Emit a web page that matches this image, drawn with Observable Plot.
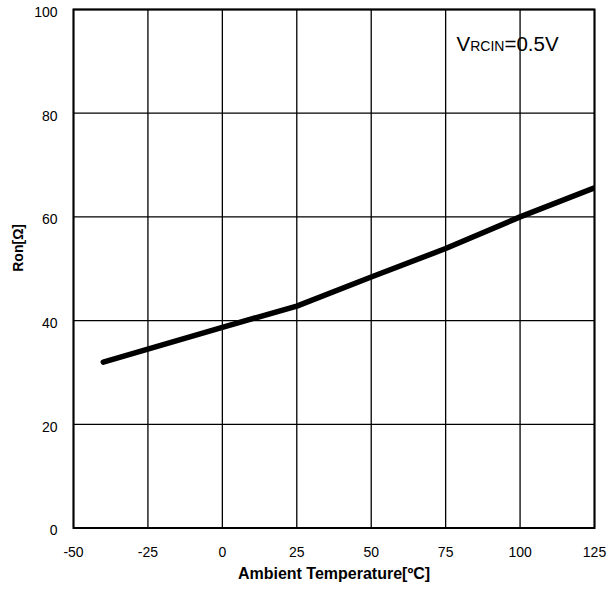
<!DOCTYPE html>
<html>
<head>
<meta charset="utf-8">
<script src="https://cdn.jsdelivr.net/npm/d3@7"></script>
<script src="https://cdn.jsdelivr.net/npm/@observablehq/plot@0.6"></script>
<style>
  html, body { margin: 0; padding: 0; background: #fff; }
  #chart svg { display: block; font-family: "Liberation Sans", Arial, sans-serif; }
</style>
</head>
<body>
<div id="chart"></div>
<script>
const temps = [-40, 0, 25, 50, 75, 100, 125];
const ron = [32.0, 38.7, 42.8, 48.4, 53.9, 60.0, 65.6];
const xTicks = [-50, -25, 0, 25, 50, 75, 100, 125];
const yTicks = [0, 20, 40, 60, 80, 100];
const xLabel = "Ambient Temperature[ºC]";
const yLabel = "Ron[Ω]";
const annotationParts = ["V", "RCIN", "=0.5V"];

const data = temps.map((t, i) => ({t, r: ron[i]}));

const chart = Plot.plot({
  width: 612,
  height: 591,
  marginLeft: 73,
  marginRight: 18,
  marginTop: 9,
  marginBottom: 63.5,
  style: {fontFamily: "'Liberation Sans', Arial, sans-serif", background: "#fff", color: "#000"},
  x: {domain: [-50, 125]},
  y: {domain: [0, 100]},
  marks: [
    Plot.ruleX(xTicks, {stroke: "#000", strokeWidth: 1.3}),
    Plot.ruleY(yTicks, {stroke: "#000", strokeWidth: 1.3}),
    Plot.line(data, {x: "t", y: "r", stroke: "#000", strokeWidth: 5.5, strokeLinecap: "round", strokeLinejoin: "round", clip: true}),
    Plot.frame({stroke: "#000", strokeWidth: 2}),
    Plot.axisX({ticks: xTicks, tickSize: 0, tickPadding: 19.5, fontSize: 14, label: null, tickFormat: d => String(d)}),
    Plot.axisY({ticks: yTicks, tickSize: 0, tickPadding: 16, fontSize: 14, label: null, dy: 3, tickFormat: d => String(d)}),
    Plot.text([xLabel], {frameAnchor: "bottom", dy: 51, fontSize: 16, fontWeight: "bold", fill: "#000"}),
    Plot.text([yLabel], {frameAnchor: "left", rotate: -90, dx: -55, dy: 3, fontSize: 14, fontWeight: "bold", fill: "#000"}),
    Plot.text([annotationParts.join("")], {frameAnchor: "top-right", textAnchor: "start", lineAnchor: "bottom", dx: -138, dy: 41.7, fontSize: 20.5, fill: "#000", className: "annot"})
  ]
});

document.getElementById("chart").appendChild(chart);

// Render the annotation with the smaller "RCIN" part
d3.select(chart).selectAll(".annot text").each(function() {
  const t = d3.select(this);
  t.text(null);
  const sizes = [20.5, 14, 20.5];
  annotationParts.forEach((p, i) => {
    t.append("tspan").attr("font-size", sizes[i]).text(p);
  });
});
</script>
</body>
</html>
